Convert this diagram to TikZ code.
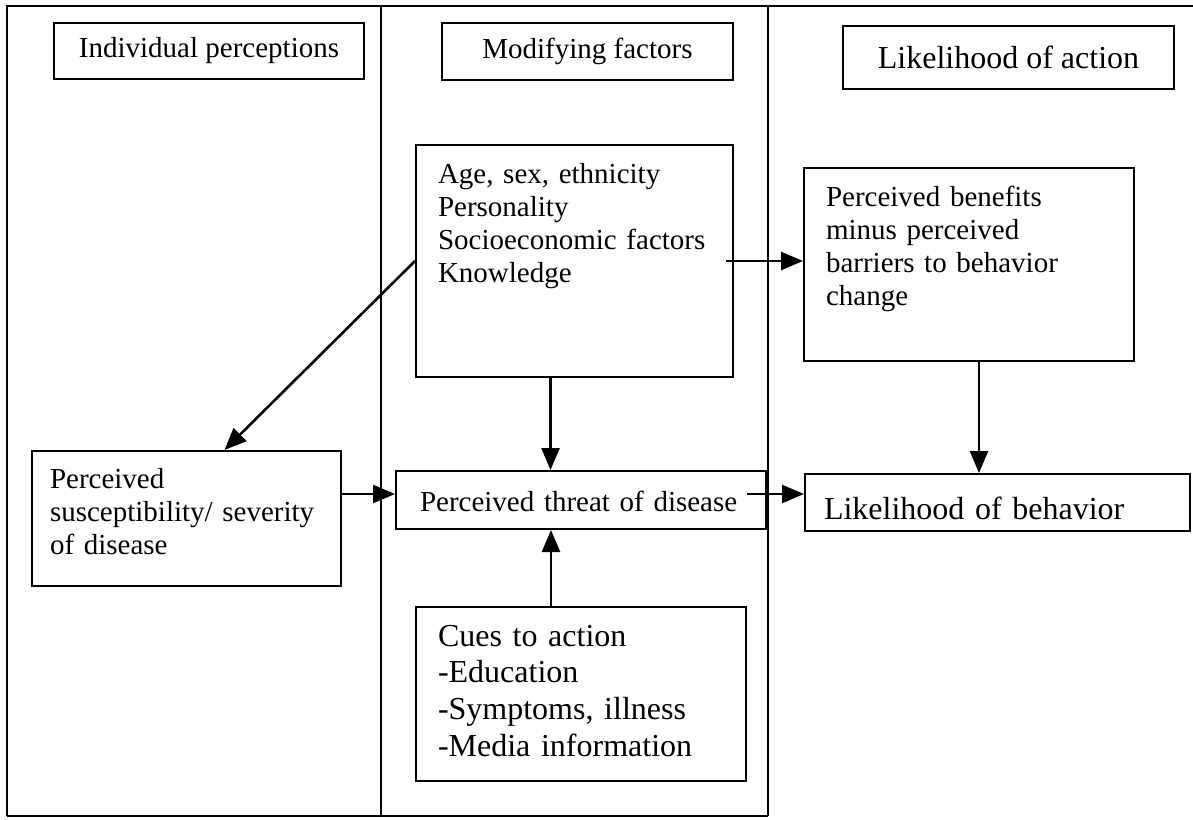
\documentclass[tikz,border=0pt]{standalone}
\usepackage{fontspec}
\setmainfont{Liberation Serif}
\usetikzlibrary{arrows.meta}

\newcommand{\smalltext}{\fontsize{14.5}{16.5}\selectfont}
\newcommand{\bigtext}{\fontsize{16}{18.35}\selectfont}

\tikzstyle{panel} = [line width=0.8pt]
\tikzstyle{header} = [rectangle, draw=black, line width=1pt, anchor=north west, text centered, inner sep=0pt]
\tikzstyle{factor} = [rectangle, draw=black, line width=1pt, anchor=north west, align=left, inner ysep=0pt]
\tikzstyle{arrow} = [line width=1.3pt, -{Triangle[length=11pt,width=9pt]}]

\begin{document}
\begin{tikzpicture}[x=0.5pt, y=-0.5pt]
  \useasboundingbox (0,0) rectangle (1193,819);

  % the three columns
  \draw [panel] (7,816) -- (7,6) -- (1193,6);
  \draw [panel] (381,6) -- (381,816);
  \draw [panel] (768,6) -- (768,816);
  \draw [panel] (7,816) -- (768,816);

  % column headers
  \node (indiv) [header, minimum width=155pt, minimum height=28pt, font=\smalltext] at (53,22) {Individual perceptions};
  \node (modif) [header, minimum width=145.5pt, minimum height=28.5pt, font=\smalltext] at (441,22) {Modifying factors};
  \node (action) [header, minimum width=165.5pt, minimum height=31.5pt, font=\bigtext] at (842,25) {Likelihood of action};

  % boxes
  \node (age) [factor, font=\smalltext, inner xsep=11pt, text width=136.5pt, text height=19pt, text depth=97pt] at (415,144)
    {Age, sex, ethnicity\\Personality\\Socioeconomic factors\\Knowledge};
  \node (benefits) [factor, font=\smalltext, inner xsep=11pt, text width=143pt, text height=19pt, text depth=77.5pt] at (803,167)
    {Perceived benefits\\minus perceived\\barriers to behavior\\change};
  \node (susc) [factor, font=\smalltext, inner xsep=9pt, text width=136.5pt, text height=18.5pt, text depth=49pt] at (31,450)
    {Perceived\\susceptibility/ severity\\of disease};
  \node (threat) [factor, font=\smalltext, inner xsep=12pt, text width=161pt, text height=20pt, text depth=9pt] at (395,470)
    {Perceived threat of disease};
  \node (behavior) [factor, font=\bigtext, inner xsep=9.5pt, text width=173.5pt, text height=22.5pt, text depth=6pt] at (804,473)
    {Likelihood of behavior};
  \node (cues) [factor, font=\bigtext, inner xsep=11pt, text width=143pt, text height=19.5pt, text depth=67.5pt] at (415,606)
    {Cues to action\\-Education\\-Symptoms, illness\\-Media information};

  % arrows
  \draw [arrow] ([xshift=-4pt]age.east) -- (age.east -| benefits.west);
  \draw [arrow] (age.west) -- ([xshift=19pt]susc.north);
  \draw [arrow] ([xshift=-12pt]age.south) -- ([xshift=-12pt]age.south |- threat.north);
  \draw [arrow] ([xshift=-15pt]cues.north) -- ([xshift=-15pt]cues.north |- threat.south);
  \draw [arrow] ([yshift=3pt]threat.west -| susc.east) -- ([yshift=3pt]threat.west);
  \draw [arrow] ([xshift=-10pt,yshift=3pt]threat.east) -- ([yshift=3pt]threat.east -| behavior.west);
  \draw [arrow] ([xshift=5pt]benefits.south) -- ([xshift=5pt]benefits.south |- behavior.north);
\end{tikzpicture}
\end{document}
